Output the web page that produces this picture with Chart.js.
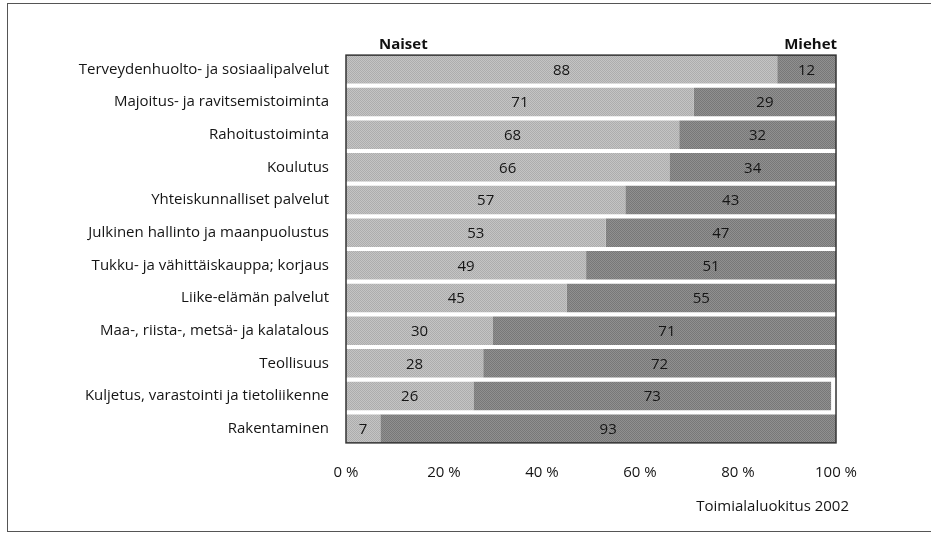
<!DOCTYPE html>
<html>
<head>
<meta charset="utf-8">
<script src="https://cdn.jsdelivr.net/npm/chart.js@4.4.1/dist/chart.umd.min.js"></script>
<style>
  html, body { margin: 0; padding: 0; background: #fff; }
  #wrap { position: relative; width: 931px; height: 533px; }
  #frame { position: absolute; left: 7px; top: 3px; right: -2px; bottom: 1px;
           border-top: 1.5px solid #555; border-left: 1.5px solid #555; border-bottom: 1.5px solid #555; pointer-events: none; }
</style>
</head>
<body>
<div id="wrap">
  <canvas id="chart" width="931" height="533"></canvas>
  <div id="frame"></div>
</div>
<script>
const categories = [
  'Terveydenhuolto- ja sosiaalipalvelut',
  'Majoitus- ja ravitsemistoiminta',
  'Rahoitustoiminta',
  'Koulutus',
  'Yhteiskunnalliset palvelut',
  'Julkinen hallinto ja maanpuolustus',
  'Tukku- ja vähittäiskauppa; korjaus',
  'Liike-elämän palvelut',
  'Maa-, riista-, metsä- ja kalatalous',
  'Teollisuus',
  'Kuljetus, varastointi ja tietoliikenne',
  'Rakentaminen'
];
const naiset = [88, 71, 68, 66, 57, 53, 49, 45, 30, 28, 26, 7];
const miehet = [12, 29, 32, 34, 43, 47, 51, 55, 71, 72, 73, 93];
const seriesNames = ['Naiset', 'Miehet'];
const sourceNote = 'Toimialaluokitus 2002';

const FONT = "'Open Sans', sans-serif";

// halftone-like fill, like the printed original
function stipple(a, b) {
  const c = document.createElement('canvas');
  c.width = 2; c.height = 2;
  const g = c.getContext('2d');
  g.fillStyle = a; g.fillRect(0, 0, 2, 2);
  g.fillStyle = b; g.fillRect(0, 0, 1, 1); g.fillRect(1, 1, 1, 1);
  return g.createPattern(c, 'repeat');
}

const extras = {
  id: 'extras',
  afterDatasetsDraw(chart) {
    const ctx = chart.ctx;
    const area = chart.chartArea;
    const first = chart.getDatasetMeta(0).data[0];
    const last = chart.getDatasetMeta(0).data[categories.length - 1];
    const top = first.y - first.height / 2;
    const bottom = last.y + last.height / 2;

    // value labels in the middle of each segment
    ctx.save();
    ctx.font = '15px ' + FONT;
    ctx.fillStyle = '#151515';
    ctx.textAlign = 'center';
    ctx.textBaseline = 'middle';
    chart.data.datasets.forEach((ds, di) => {
      chart.getDatasetMeta(di).data.forEach((el, i) => {
        ctx.fillText(ds.data[i], (el.x + el.base) / 2, el.y + 1);
      });
    });

    // box around the bars
    ctx.strokeStyle = '#333';
    ctx.lineWidth = 1.5;
    ctx.strokeRect(area.left, top, area.right - area.left, bottom - top);

    // series headers
    ctx.font = 'bold 15px ' + FONT;
    ctx.fillStyle = '#111';
    ctx.textBaseline = 'alphabetic';
    ctx.textAlign = 'left';
    ctx.fillText(chart.data.datasets[0].label, area.left + 33, top - 6);
    ctx.textAlign = 'right';
    ctx.fillText(chart.data.datasets[1].label, area.right + 1, top - 6);

    // source note
    ctx.font = '15px ' + FONT;
    ctx.fillStyle = '#151515';
    ctx.fillText(sourceNote, area.right + 13, bottom + 68);
    ctx.restore();
  }
};

new Chart(document.getElementById('chart'), {
  type: 'bar',
  data: {
    labels: categories,
    datasets: [
      { label: seriesNames[0], data: naiset, backgroundColor: stipple('#c4c4c4', '#adadad') },
      { label: seriesNames[1], data: miehet, backgroundColor: stipple('#909090', '#787878') }
    ]
  },
  options: {
    indexAxis: 'y',
    responsive: false,
    animation: false,
    barPercentage: 0.87,
    categoryPercentage: 1,
    layout: { padding: { top: 53, right: 95, left: 0, bottom: 0 } },
    plugins: { legend: { display: false }, tooltip: { enabled: false } },
    scales: {
      x: {
        stacked: true,
        min: 0,
        max: 100,
        grid: { display: false },
        border: { display: false },
        ticks: {
          stepSize: 20,
          padding: 11,
          color: '#151515',
          font: { family: FONT, size: 15 },
          callback: v => v + ' %'
        },
        afterFit: s => { s.height = 88; }
      },
      y: {
        stacked: true,
        grid: { display: false },
        border: { display: false },
        ticks: {
          padding: 9,
          color: '#151515',
          font: { family: FONT, size: 15 }
        },
        afterFit: s => { s.width = 346; }
      }
    }
  },
  plugins: [extras]
});
</script>
</body>
</html>
